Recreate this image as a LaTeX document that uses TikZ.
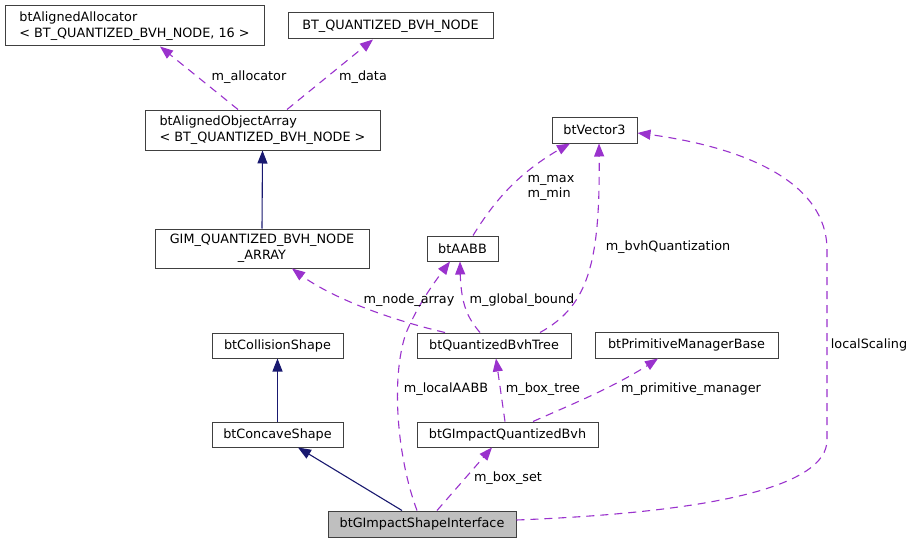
\documentclass[tikz,border=0pt]{standalone}
\usepackage{fontspec}
\setmainfont{DejaVu Sans}
\usetikzlibrary{arrows.meta,bending}
\definecolor{depcol}{HTML}{9A32CD}
\definecolor{inhcol}{HTML}{191970}
\definecolor{bordcol}{HTML}{404040}
\definecolor{hlcol}{HTML}{BFBFBF}
\begin{document}
\begin{tikzpicture}[x=1pt,y=-1pt,
  every node/.style={font=\fontsize{12.8}{15.5}\selectfont},
  box/.style={draw=bordcol, line width=1pt, fill=white, inner sep=0pt, align=left},
  hlbox/.style={box, fill=hlcol},
  lbl/.style={inner sep=0pt, align=left, text=black},
  depedge/.style={draw=depcol, line width=1.1pt, dash pattern=on 8pt off 6pt,
    -{Triangle[length=13pt,width=10pt,flex]}},
  inhedge/.style={draw=inhcol, line width=1.1pt, -{Triangle[length=13pt,width=10pt]}}]
\useasboundingbox (0,0) rectangle (915,543);
\fill[white] (0,0) rectangle (915,543);

% nodes
\node[box, minimum width=259pt, minimum height=40pt] (alloc) at (134.5,26)
  {btAlignedAllocator\\< BT\_QUANTIZED\_BVH\_NODE, 16 >};
\node[box, minimum width=205pt, minimum height=26pt] (bqnode) at (390.5,26)
  {BT\_QUANTIZED\_BVH\_NODE};
\node[box, minimum width=235pt, minimum height=40pt] (aoa) at (262.5,130)
  {btAlignedObjectArray\\< BT\_QUANTIZED\_BVH\_NODE >};
\node[box, align=center, minimum width=214pt, minimum height=39pt] (gim) at (262,248.5)
  {GIM\_QUANTIZED\_BVH\_NODE\\\_ARRAY};
\node[box, minimum width=71pt, minimum height=25pt] (aabb) at (462.5,248.5) {btAABB};
\node[box, minimum width=85pt, minimum height=26pt] (vec3) at (594.5,130) {btVector3};
\node[box, minimum width=131pt, minimum height=25pt] (colsh) at (277.5,345.5) {btCollisionShape};
\node[box, minimum width=154pt, minimum height=25pt] (qbt) at (494,345.5) {btQuantizedBvhTree};
\node[box, minimum width=183pt, minimum height=26pt] (pmb) at (686.5,345) {btPrimitiveManagerBase};
\node[box, minimum width=131pt, minimum height=25pt] (conc) at (277.5,434.5) {btConcaveShape};
\node[box, minimum width=181pt, minimum height=25pt] (gqb) at (507.5,434.5) {btGImpactQuantizedBvh};
\node[hlbox, minimum width=188pt, minimum height=26pt] (gsi) at (422,524) {btGImpactShapeInterface};

% inheritance edges
\draw[inhedge] (gim.north) -- (aoa.south);
\draw[inhedge] (conc.north) -- (colsh.south);
\draw[inhedge] ([xshift=-20pt]gsi.north) -- ([xshift=20.5pt]conc.south);

% usage edges
\draw[depedge] ([xshift=-24.5pt]aoa.north) -- ([xshift=25.5pt]alloc.south);
\draw[depedge] ([xshift=24.5pt]aoa.north) -- ([xshift=-17.5pt]bqnode.south);
\draw[depedge] ([xshift=-49pt]qbt.north) .. controls (400,322) and (330,300) .. ([xshift=30pt]gim.south);
\draw[depedge] ([xshift=-14pt]qbt.north) .. controls (465,315) and (460,300) .. ([xshift=-2.5pt]aabb.south);
\draw[depedge] ([xshift=46pt]qbt.north) .. controls (590,305) and (601,260) .. ([xshift=4.5pt]vec3.south);
\draw[depedge] ([xshift=10.5pt]aabb.north) .. controls (495,200) and (520,170) .. ([xshift=-24.5pt]vec3.south);
\draw[depedge] ([xshift=-5pt]gsi.north) .. controls (398,460) and (390,380) .. (406,333)
  .. controls (418,305) and (432,285) .. ([xshift=-12.5pt]aabb.south);
\draw[depedge] ([xshift=-2.5pt]gqb.north) -- ([xshift=2pt]qbt.south);
\draw[depedge] ([xshift=25.5pt]gqb.north) .. controls (570,405) and (620,385) .. ([xshift=-28.5pt]pmb.south);
\draw[depedge] ([xshift=15pt]gsi.north) -- ([xshift=-15.5pt]gqb.south);
\draw[depedge] ([yshift=4pt]gsi.east) .. controls (720,512) and (827,485) .. (827,440)
  -- (827,250) .. controls (827,180) and (740,145) .. ([yshift=-3pt]vec3.east);

% labels
\node[lbl] (l1) at (249,77) {m\_allocator};
\node[lbl] (l2) at (363,77) {m\_data};
\node[lbl] (l3) at (409,300) {m\_node\_array};
\node[lbl] (l4) at (522,300) {m\_global\_bound};
\node[lbl] (l5) at (668,247) {m\_bvhQuantization};
\node[lbl] (l6) at (551,188) {m\_max\\m\_min};
\node[lbl] (l7) at (446,389) {m\_localAABB};
\node[lbl] (l8) at (543,389) {m\_box\_tree};
\node[lbl] (l9) at (691,389) {m\_primitive\_manager};
\node[lbl] (l10) at (508,478) {m\_box\_set};
\node[lbl] (l11) at (869,345) {localScaling};
\end{tikzpicture}
\end{document}
